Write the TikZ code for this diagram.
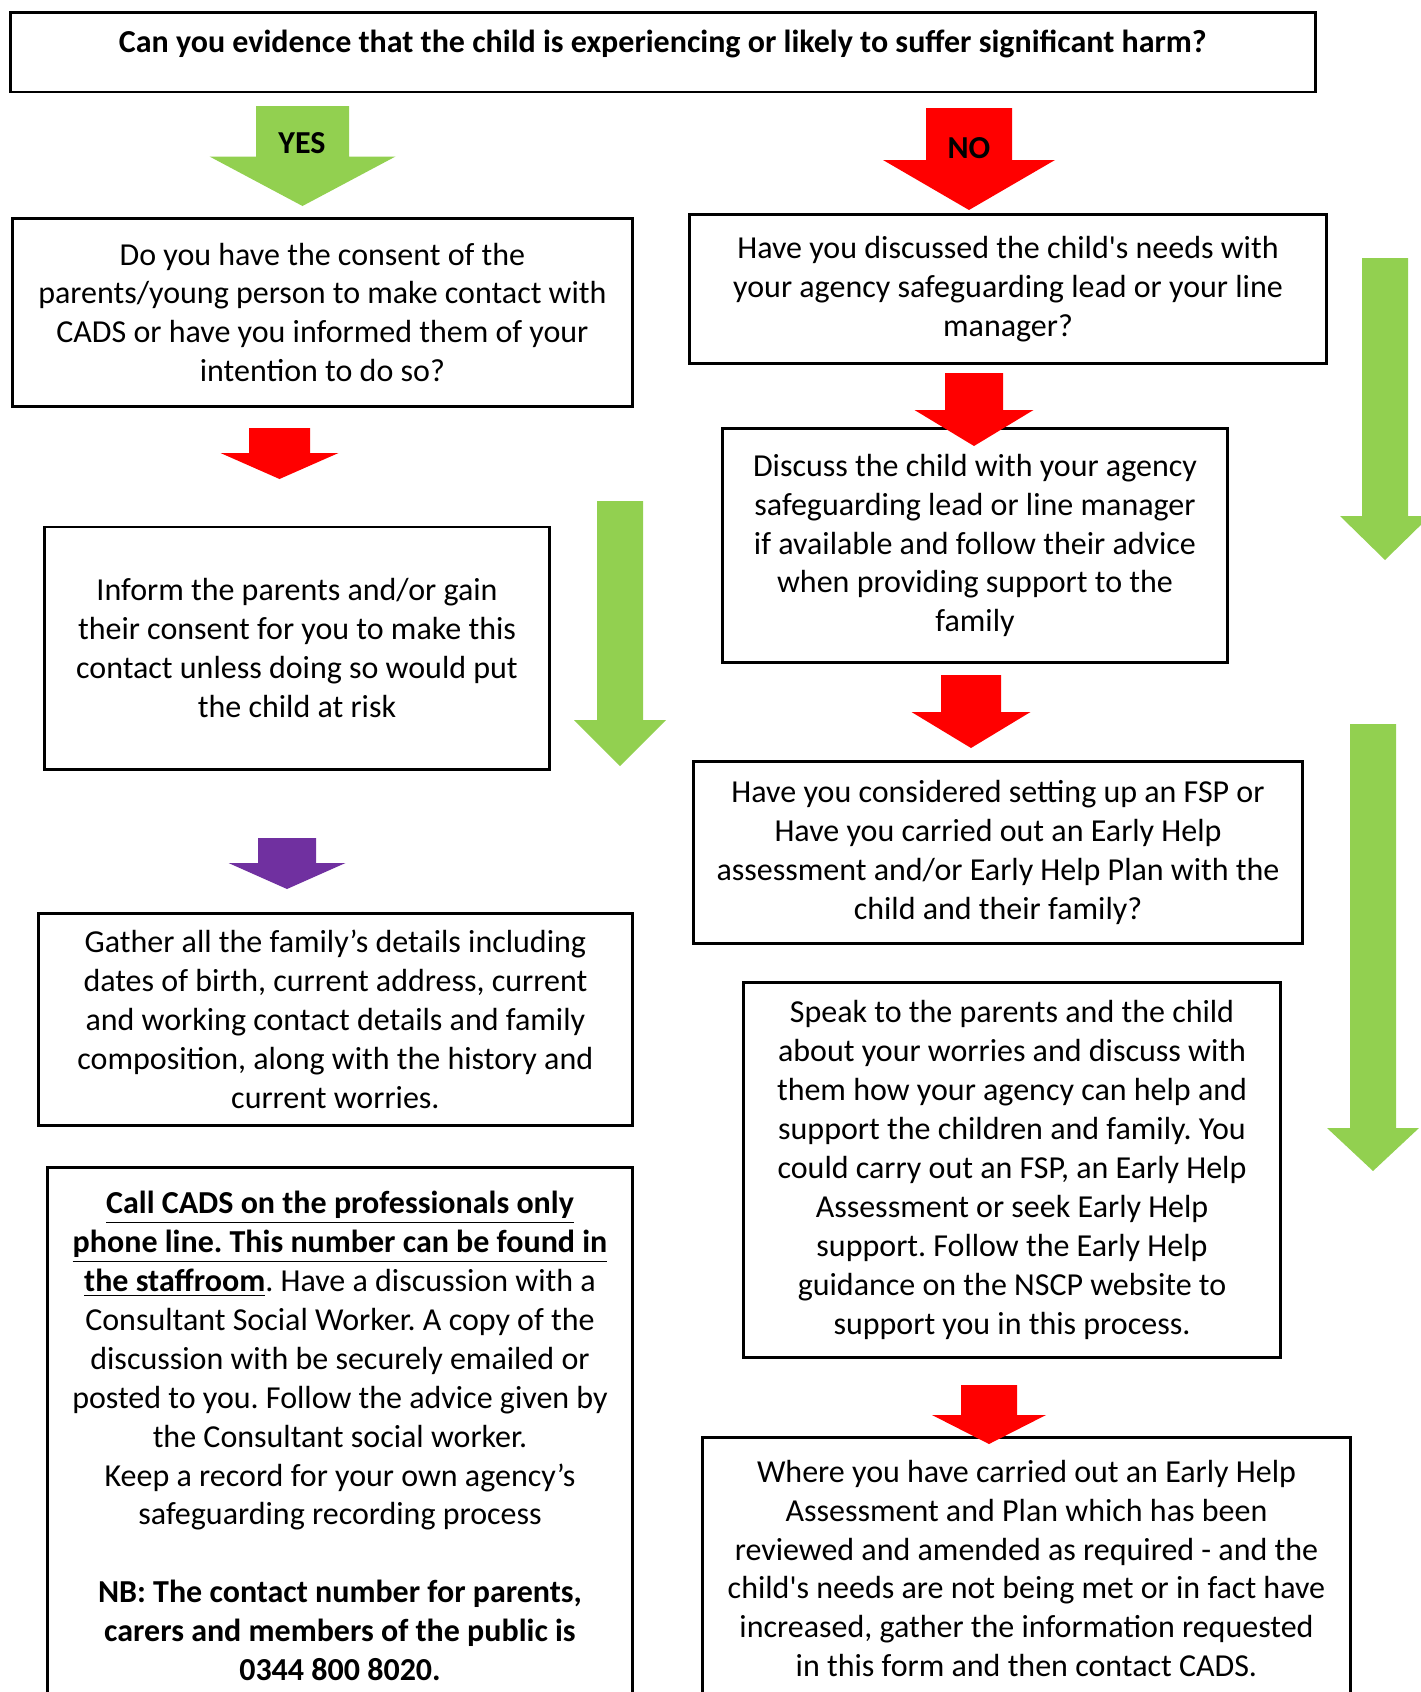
\documentclass[tikz,border=0pt]{standalone}
\usepackage{fontspec}
\setmainfont{Carlito}
\frenchspacing
\definecolor{yesgreen}{HTML}{92D050}
\definecolor{nored}{HTML}{FF0000}
\definecolor{gatherpurple}{HTML}{7030A0}

% block arrow: colour, centre x, shaft half width, top, head start, head half width, tip
\newcommand{\bigarrow}[7]{%
  \fill[#1] (#2-#3,#4) -- (#2+#3,#4) -- (#2+#3,#5) -- (#2+#6,#5) -- (#2,#7) -- (#2-#6,#5) -- (#2-#3,#5) -- cycle;}

\begin{document}
\begin{tikzpicture}[
    x=0.375pt, y=-0.375pt,
    box/.style={rectangle, draw, line width=1.1pt, anchor=north west, align=center, inner sep=0pt,
        font=\fontsize{12}{14.6}\selectfont},
    tag/.style={font=\fontsize{12}{14.6}\selectfont\bfseries}
]
    \useasboundingbox (0,0) rectangle (1421,1692);

    \node[box, minimum width=489.5pt, minimum height=29.9pt, text depth=8pt, font=\fontsize{12}{14.6}\selectfont\bfseries] (harm) at (8.6,10.8)
        {Can you evidence that the child is experiencing or likely to suffer significant harm?};

    % yes column
    \node[box, minimum width=232.6pt, minimum height=70.5pt] (consent) at (10.8,217)
        {Do you have the consent of the\\parents/young person to make contact with\\CADS or have you informed them of your\\intention to do so?};
    \node[box, minimum width=189.4pt, minimum height=90.9pt] (inform) at (43,525.5)
        {Inform the parents and/or gain\\their consent for you to make this\\contact unless doing so would put\\the child at risk};
    \node[box, minimum width=222.9pt, minimum height=79.5pt] (gather) at (36.7,912)
        {Gather all the family’s details including\\dates of birth, current address, current\\and working contact details and family\\composition, along with the history and\\current worries.};
    \node[box, minimum width=219.4pt, minimum height=201.4pt] (callcads) at (46,1166)
        {\underline{\textbf{Call CADS on the professionals only}}\\
         \underline{\textbf{phone line. This number can be found in}}\\
         \underline{\textbf{the staffroom}}. Have a discussion with a\\
         Consultant Social Worker. A copy of the\\
         discussion with be securely emailed or\\
         posted to you. Follow the advice given by\\
         the Consultant social worker.\\
         Keep a record for your own agency’s\\
         safeguarding recording process\\
         \mbox{}\\
         \textbf{NB: The contact number for parents,}\\
         \textbf{carers and members of the public is}\\
         \textbf{0344 800 8020.}};

    % no column
    \node[box, minimum width=238.9pt, minimum height=56.2pt] (discussed) at (688,212.6)
        {Have you discussed the child\textquotesingle s needs with\\your agency safeguarding lead or your line\\manager?};
    \node[box, minimum width=189.4pt, minimum height=87.75pt] (discuss) at (721,427)
        {Discuss the child with your agency\\safeguarding lead or line manager\\if available and follow their advice\\when providing support to the\\family};
    \node[box, minimum width=228.4pt, minimum height=68.25pt] (fsp) at (692,760)
        {Have you considered setting up an FSP or\\Have you carried out an Early Help\\assessment and/or Early Help Plan with the\\child and their family?};
    \node[box, minimum width=201.4pt, minimum height=140.6pt] (speak) at (742,981)
        {Speak to the parents and the child\\about your worries and discuss with\\them how your agency can help and\\support the children and family. You\\could carry out an FSP, an Early Help\\Assessment or seek Early Help\\support. Follow the Early Help\\guidance on the NSCP website to\\support you in this process.};
    \node[box, minimum width=243pt, minimum height=98.25pt] (contact) at (701,1436)
        {Where you have carried out an Early Help\\Assessment and Plan which has been\\reviewed and amended as required - and the\\child\textquotesingle s needs are not being met or in fact have\\increased, gather the information requested\\in this form and then contact CADS.};

    % block arrows
    \bigarrow{yesgreen}{302.5}{46.5}{106}{156.5}{93}{206}
    \bigarrow{nored}{969}{43}{108}{160}{86}{210}
    \bigarrow{nored}{279.5}{30.5}{428}{453}{59}{479}
    \bigarrow{nored}{974}{29}{373}{410}{59.5}{446}
    \bigarrow{yesgreen}{1385}{23}{258}{516}{45}{560}
    \bigarrow{yesgreen}{620}{23}{501}{720}{46}{766}
    \bigarrow{nored}{971}{30}{675}{712}{59.5}{748}
    \bigarrow{gatherpurple}{287}{29}{838}{863}{58.5}{889}
    \bigarrow{yesgreen}{1373}{23}{724}{1128}{46}{1171}
    \bigarrow{nored}{989}{28}{1385}{1415}{57}{1444}

    \node[tag] (yes) at (302,143.5) {YES};
    \node[tag] (no) at (969,148) {NO};
\end{tikzpicture}
\end{document}
